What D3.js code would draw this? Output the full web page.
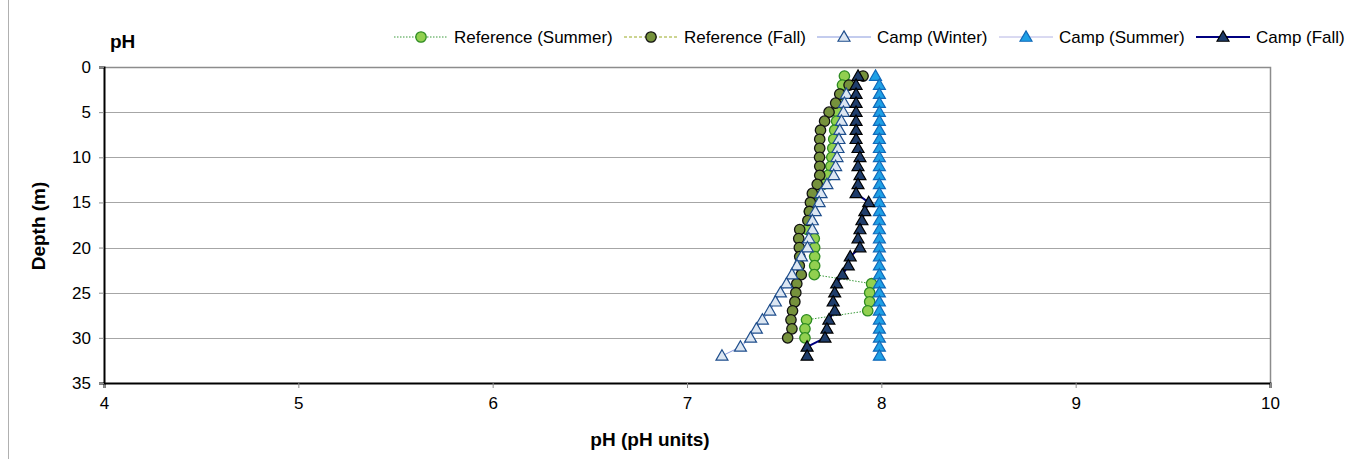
<!DOCTYPE html>
<html>
<head>
<meta charset="utf-8">
<script src="https://cdn.jsdelivr.net/npm/d3@7/dist/d3.min.js"></script>
<style>
  html, body { margin: 0; padding: 0; background: #ffffff; }
  svg { display: block; font-family: "Liberation Sans", Arial, sans-serif; }
</style>
</head>
<body>
<svg id="chart" width="1356" height="459"></svg>
<script>
// Depth profiles of pH (one value per metre of depth)
const refSummerDepth = d3.range(1, 31);
const refSummerPH = [7.81, 7.80, 7.79, 7.78, 7.775, 7.77, 7.76, 7.755, 7.75, 7.745,
  7.74, 7.725, 7.70, 7.66, 7.645, 7.63, 7.625, 7.62, 7.655, 7.657,
  7.657, 7.657, 7.655, 7.95, 7.94, 7.94, 7.93, 7.615, 7.607, 7.607];

const refFallDepth = d3.range(1, 31);
const refFallPH = [7.906, 7.834, 7.786, 7.765, 7.731, 7.708, 7.687, 7.683, 7.683, 7.682,
  7.683, 7.683, 7.670, 7.645, 7.635, 7.630, 7.622, 7.580, 7.575, 7.578,
  7.580, 7.578, 7.588, 7.565, 7.560, 7.555, 7.543, 7.535, 7.540, 7.518];

const campWinterDepth = d3.range(3, 33);
const campWinterPH = [7.82, 7.81, 7.805, 7.795, 7.786, 7.782, 7.777, 7.772, 7.765, 7.755,
  7.72, 7.69, 7.68, 7.66, 7.645, 7.645, 7.627, 7.62, 7.589, 7.566,
  7.54, 7.512, 7.481, 7.455, 7.426, 7.388, 7.357, 7.327, 7.275, 7.18];

const campSummerDepth = d3.range(1, 33);
const campSummerPH = [7.97, 7.99, 7.99, 7.99, 7.99, 7.99, 7.99, 7.99, 7.99, 7.99,
  7.99, 7.99, 7.99, 7.99, 7.99, 7.99, 7.99, 7.99, 7.99, 7.99,
  7.99, 7.99, 7.99, 7.99, 7.99, 7.99, 7.99, 7.99, 7.99, 7.99,
  7.99, 7.99];

const campFallDepth = d3.range(1, 33);
const campFallPH = [7.88, 7.87, 7.87, 7.87, 7.87, 7.87, 7.87, 7.87, 7.88, 7.89,
  7.88, 7.89, 7.88, 7.87, 7.935, 7.915, 7.90, 7.89, 7.88, 7.89,
  7.84, 7.83, 7.80, 7.77, 7.76, 7.752, 7.76, 7.73, 7.72, 7.71,
  7.618, 7.618];

const xTicks = [4, 5, 6, 7, 8, 9, 10];
const yTicks = [0, 5, 10, 15, 20, 25, 30, 35];

const seriesNames = ["Reference (Summer)", "Reference (Fall)", "Camp (Winter)", "Camp (Summer)", "Camp (Fall)"];

// Styling per series
const styles = [
  { line: "#3a9a3a", lineWidth: 1, dash: "1.5,1.5", shape: "circle", fill: "#92d050", stroke: "#2e8b22" },
  { line: "#9aaa22", lineWidth: 1, dash: "3,2", shape: "circle", fill: "#76923c", stroke: "#111111" },
  { line: "#8899dd", lineWidth: 1, dash: null, shape: "triangle", fill: "#dce6f2", stroke: "#1f4e8c" },
  { line: "#b4b4e4", lineWidth: 1, dash: null, shape: "triangle", fill: "#1ea0e6", stroke: "#1068b8" },
  { line: "#000080", lineWidth: 2, dash: null, shape: "triangle", fill: "#1f3d6b", stroke: "#000000" }
];

const series = [
  { depth: refSummerDepth, ph: refSummerPH },
  { depth: refFallDepth, ph: refFallPH },
  { depth: campWinterDepth, ph: campWinterPH },
  { depth: campSummerDepth, ph: campSummerPH },
  { depth: campFallDepth, ph: campFallPH }
];

const svg = d3.select("#chart");
const plot = { left: 104, right: 1270, top: 67, bottom: 383 };

const x = d3.scaleLinear().domain([4, 10]).range([plot.left, plot.right]);
const y = d3.scaleLinear().domain([0, 35]).range([plot.top, plot.bottom]);

// outer chart-area edge
svg.append("line")
  .attr("x1", 8.5).attr("x2", 8.5).attr("y1", 0).attr("y2", 459)
  .attr("stroke", "#b0b0b0").attr("stroke-width", 1);

// horizontal gridlines
svg.append("g")
  .selectAll("line")
  .data(yTicks.filter(t => t > 0 && t < 35))
  .join("line")
  .attr("x1", plot.left).attr("x2", plot.right)
  .attr("y1", d => Math.round(y(d)) + 0.5).attr("y2", d => Math.round(y(d)) + 0.5)
  .attr("stroke", "#a6a6a6").attr("stroke-width", 1);

// top and right frame
svg.append("path")
  .attr("d", `M${plot.left},${plot.top + 0.5}H${plot.right + 0.5}V${plot.bottom}`)
  .attr("fill", "none").attr("stroke", "#8c8c8c").attr("stroke-width", 1.5);

// axes
const xAxis = d3.axisBottom(x).tickValues(xTicks).tickSize(5).tickPadding(9).tickFormat(d3.format("d"));
const yAxis = d3.axisLeft(y).tickValues(yTicks).tickSize(5).tickPadding(8).tickFormat(d3.format("d"));

const gx = svg.append("g").attr("transform", `translate(0,${plot.bottom})`).call(xAxis);
const gy = svg.append("g").attr("transform", `translate(${plot.left},0)`).call(yAxis);

[gx, gy].forEach(g => {
  g.select(".domain").attr("stroke", "#000").attr("stroke-width", 2);
  g.selectAll(".tick line").attr("stroke", "#8c8c8c");
  g.selectAll(".tick text")
    .attr("fill", "#000")
    .style("font-family", "'Liberation Sans', Arial, sans-serif")
    .style("font-size", "17px");
});

// axis titles and chart title
svg.append("text")
  .attr("x", 650).attr("y", 446)
  .attr("text-anchor", "middle")
  .style("font-size", "19px").style("font-weight", "bold")
  .text("pH (pH units)");

svg.append("text")
  .attr("transform", "translate(45,226) rotate(-90)")
  .attr("text-anchor", "middle")
  .style("font-size", "19px").style("font-weight", "bold")
  .text("Depth (m)");

svg.append("text")
  .attr("x", 110).attr("y", 48)
  .style("font-size", "19px").style("font-weight", "bold")
  .text("pH");

// marker helpers
const triangle = d3.symbol().type(d3.symbolTriangle).size(62);

function drawMarker(g, shape, st) {
  if (shape === "circle") {
    g.append("circle").attr("r", 5.2)
      .attr("fill", st.fill).attr("stroke", st.stroke).attr("stroke-width", 1.3);
  } else {
    g.append("path").attr("d", triangle).attr("transform", "translate(0,0.8)")
      .attr("fill", st.fill).attr("stroke", st.stroke).attr("stroke-width", 1.2);
  }
}

const line = d3.line().x(d => x(d.ph)).y(d => y(d.depth));

series.forEach((s, i) => {
  const st = styles[i];
  const pts = s.depth.map((d, k) => ({ depth: d, ph: s.ph[k] }));
  const g = svg.append("g").attr("class", "series-" + i);
  g.append("path")
    .attr("d", line(pts))
    .attr("fill", "none")
    .attr("stroke", st.line)
    .attr("stroke-width", st.lineWidth)
    .attr("stroke-dasharray", st.dash);
  g.selectAll("g.pt")
    .data(pts)
    .join("g")
    .attr("class", "pt")
    .attr("transform", d => `translate(${x(d.ph)},${y(d.depth)})`)
    .each(function () { drawMarker(d3.select(this), st.shape, st); });
});

// legend
const legendX = [394, 624, 817, 999, 1196];
const legend = svg.append("g").attr("class", "legend");
seriesNames.forEach((name, i) => {
  const st = styles[i];
  const g = legend.append("g").attr("transform", `translate(${legendX[i]},37)`);
  g.append("line")
    .attr("x1", 0).attr("x2", 54).attr("y1", 0).attr("y2", 0)
    .attr("stroke", st.line).attr("stroke-width", st.lineWidth)
    .attr("stroke-dasharray", st.dash);
  const m = g.append("g").attr("transform", "translate(27,0)");
  drawMarker(m, st.shape, st);
  g.append("text")
    .attr("x", 60).attr("y", 6)
    .style("font-size", "17px")
    .attr("fill", "#000")
    .text(name);
});
</script>
</body>
</html>
